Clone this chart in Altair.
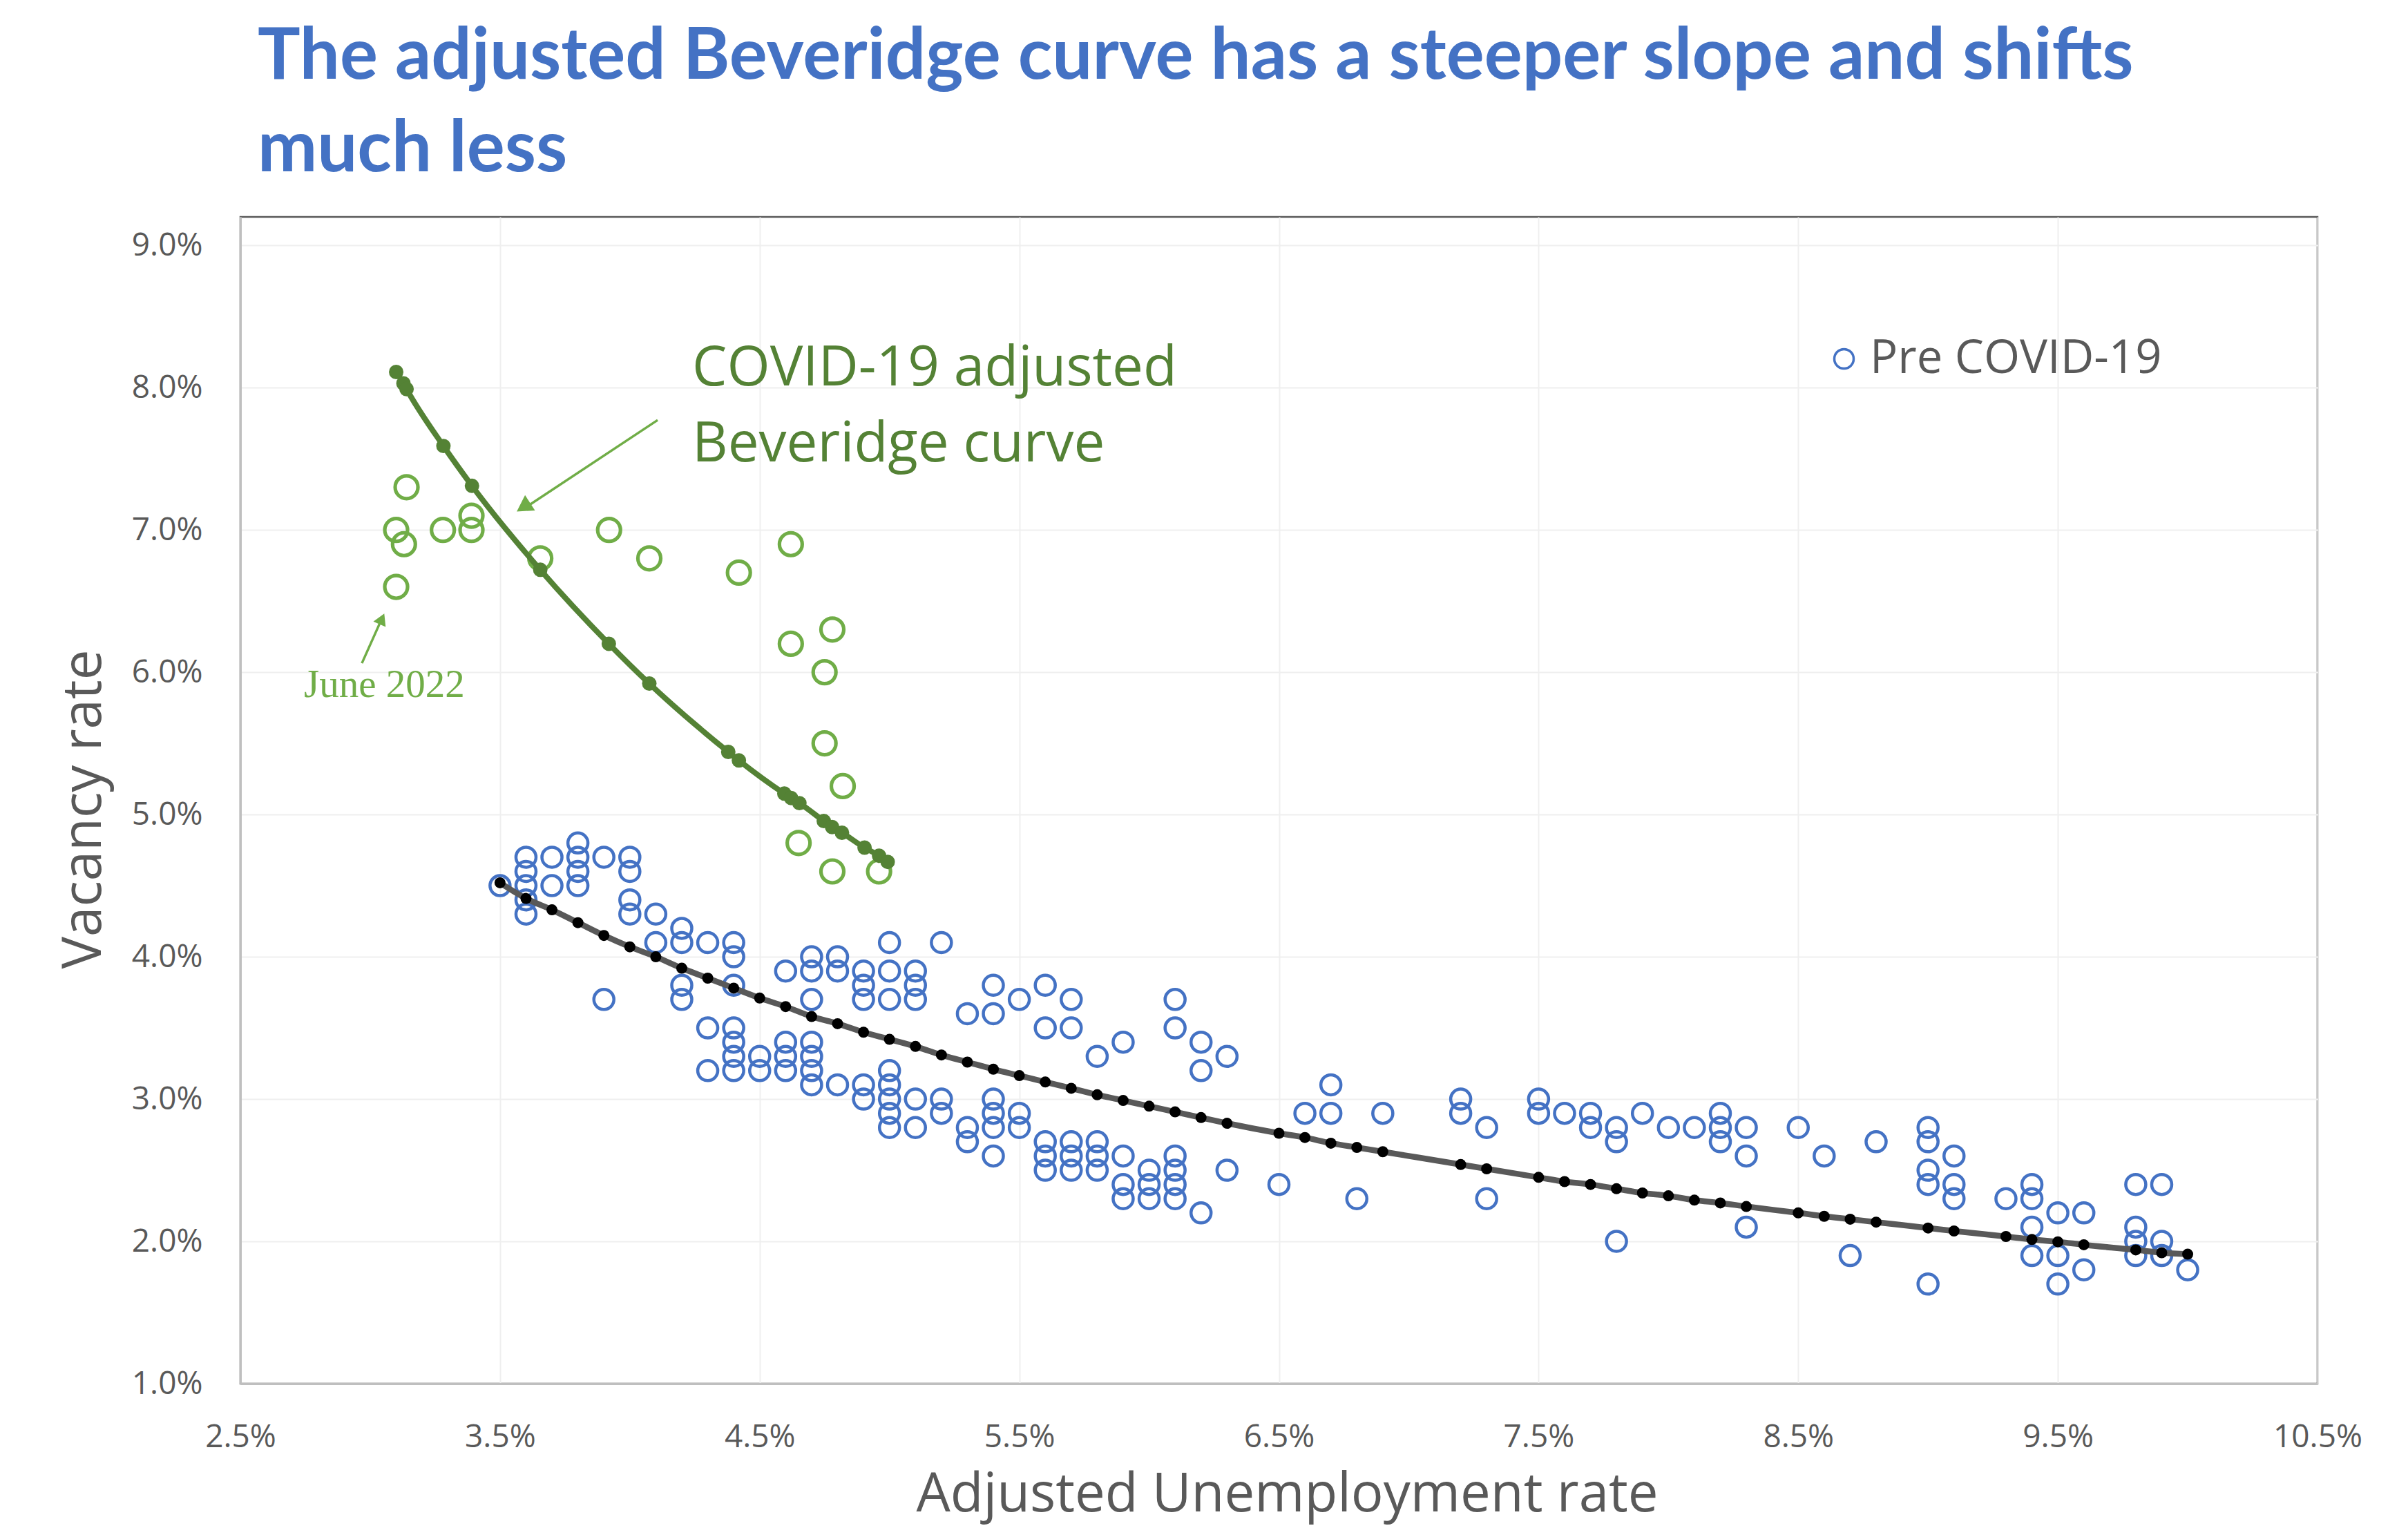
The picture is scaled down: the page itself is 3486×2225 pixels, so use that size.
import altair as alt
import pandas as pd

TITLE = ["The adjusted Beveridge curve has a steeper slope and shifts", "much less"]
X_TITLE = "Adjusted Unemployment rate"
Y_TITLE = "Vacancy rate"
LEGEND_LABEL = "Pre COVID-19"

x_ticks = [2.5, 3.5, 4.5, 5.5, 6.5, 7.5, 8.5, 9.5, 10.5]
y_ticks = [1.0, 2.0, 3.0, 4.0, 5.0, 6.0, 7.0, 8.0, 9.0]

# Pre COVID-19 observations: adjusted unemployment rate (%) and vacancy rate (%)
pre_u = [3.5, 3.6, 3.6, 3.6, 3.6, 3.6, 3.7, 3.7, 3.8, 3.8, 3.8, 3.8, 3.9, 3.9, 4.0, 4.0, 4.0, 4.0,
         4.1, 4.1, 4.2, 4.2, 4.2, 4.2, 4.3, 4.3, 4.3, 4.4, 4.4, 4.4, 4.4, 4.4, 4.4, 4.4, 4.5, 4.5,
         4.6, 4.6, 4.6, 4.6, 4.7, 4.7, 4.7, 4.7, 4.7, 4.7, 4.7, 4.8, 4.8, 4.8, 4.9, 4.9, 4.9, 4.9, 4.9,
         5.0, 5.0, 5.0, 5.0, 5.0, 5.0, 5.0, 5.0, 5.1, 5.1, 5.1, 5.1, 5.1, 5.2, 5.2, 5.2, 5.3, 5.3, 5.3,
         5.4, 5.4, 5.4, 5.4, 5.4, 5.4, 5.5, 5.5, 5.5, 5.6, 5.6, 5.6, 5.6, 5.6, 5.7, 5.7, 5.7, 5.7, 5.7,
         5.8, 5.8, 5.8, 5.8, 5.9, 5.9, 5.9, 5.9, 6.0, 6.0, 6.0, 6.1, 6.1, 6.1, 6.1, 6.1, 6.1,
         6.2, 6.2, 6.2, 6.3, 6.3,
         6.5, 6.6, 6.7, 6.7, 6.8, 6.9, 7.2, 7.2, 7.3, 7.3, 7.5, 7.5, 7.6, 7.7, 7.7, 7.8, 7.8, 7.8, 7.9,
         8.0, 8.1, 8.2, 8.2, 8.2, 8.3, 8.3, 8.3, 8.5, 8.6, 8.7, 8.8,
         9.0, 9.0, 9.0, 9.0, 9.0, 9.1, 9.1, 9.1, 9.3, 9.4, 9.4, 9.4, 9.4, 9.5, 9.5, 9.5, 9.6, 9.6,
         9.8, 9.8, 9.8, 9.8, 9.9, 9.9, 9.9, 10.0]
pre_v = [4.5, 4.7, 4.6, 4.5, 4.4, 4.3, 4.7, 4.5, 4.8, 4.7, 4.6, 4.5, 4.7, 3.7, 4.7, 4.6, 4.4, 4.3,
         4.3, 4.1, 4.2, 4.1, 3.8, 3.7, 4.1, 3.5, 3.2, 4.1, 4.0, 3.8, 3.5, 3.4, 3.3, 3.2, 3.3, 3.2,
         3.9, 3.4, 3.3, 3.2, 4.0, 3.9, 3.7, 3.4, 3.3, 3.2, 3.1, 4.0, 3.9, 3.1, 3.9, 3.8, 3.7, 3.1, 3.0,
         4.1, 3.9, 3.7, 3.2, 3.1, 3.0, 2.9, 2.8, 3.9, 3.8, 3.7, 3.0, 2.8, 4.1, 3.0, 2.9, 3.6, 2.8, 2.7,
         3.8, 3.6, 3.0, 2.9, 2.8, 2.6, 3.7, 2.9, 2.8, 3.8, 3.5, 2.7, 2.6, 2.5, 3.7, 3.5, 2.7, 2.6, 2.5,
         3.3, 2.7, 2.6, 2.5, 3.4, 2.6, 2.4, 2.3, 2.5, 2.4, 2.3, 3.7, 3.5, 2.6, 2.5, 2.4, 2.3,
         3.4, 3.2, 2.2, 3.3, 2.5,
         2.4, 2.9, 3.1, 2.9, 2.3, 2.9, 3.0, 2.9, 2.8, 2.3, 3.0, 2.9, 2.9, 2.9, 2.8, 2.8, 2.7, 2.0, 2.9,
         2.8, 2.8, 2.9, 2.8, 2.7, 2.8, 2.6, 2.1, 2.8, 2.6, 1.9, 2.7,
         2.8, 2.7, 2.5, 2.4, 1.7, 2.6, 2.4, 2.3, 2.3, 2.4, 2.3, 2.1, 1.9, 2.2, 1.9, 1.7, 2.2, 1.8,
         2.4, 2.1, 2.0, 1.9, 2.4, 2.0, 1.9, 1.8]

# Fitted pre COVID-19 Beveridge curve
fit_u = [3.5, 3.6, 3.7, 3.8, 3.9, 4.0, 4.1, 4.2, 4.3, 4.4, 4.5, 4.6, 4.7, 4.8, 4.9, 5.0,
         5.1, 5.2, 5.3, 5.4, 5.5, 5.6, 5.7, 5.8, 5.9, 6.0, 6.1, 6.2, 6.3,
         6.5, 6.6, 6.7, 6.8, 6.9, 7.2, 7.3, 7.5, 7.6, 7.7, 7.8, 7.9, 8.0, 8.1, 8.2, 8.3,
         8.5, 8.6, 8.7, 8.8, 9.0, 9.1, 9.3, 9.4, 9.5, 9.6, 9.8, 9.9, 10.0]
fit_v = [4.52, 4.41, 4.33, 4.24, 4.15, 4.07, 4.00, 3.92, 3.85, 3.78, 3.71, 3.65, 3.58, 3.53, 3.47, 3.42,
         3.37, 3.31, 3.26, 3.21, 3.165, 3.12, 3.076, 3.03, 2.99, 2.95, 2.91, 2.87, 2.83,
         2.76, 2.73, 2.69, 2.66, 2.63, 2.54, 2.51, 2.45, 2.42, 2.40, 2.37, 2.34, 2.32, 2.29, 2.27, 2.245,
         2.20, 2.176, 2.156, 2.135, 2.094, 2.073, 2.034, 2.013, 1.997, 1.976, 1.94, 1.92, 1.91]

# COVID-19 observations
cov_u = [3.10, 3.10, 3.13, 3.14, 3.28, 3.39, 3.39, 3.655, 3.92, 4.075, 4.42,
         4.62, 4.62, 4.78, 4.75, 4.75, 4.82, 4.65, 4.78, 4.96]
cov_v = [7.0, 6.6, 6.9, 7.3, 7.0, 7.1, 7.0, 6.8, 7.0, 6.8, 6.7,
         6.9, 6.2, 6.3, 6.0, 5.5, 5.2, 4.8, 4.6, 4.6]

# COVID-19 adjusted Beveridge curve
cfit_u = [3.10, 3.128, 3.14, 3.282, 3.392, 3.655, 3.919, 4.075, 4.379, 4.42,
          4.595, 4.621, 4.653, 4.747, 4.779, 4.817, 4.904, 4.96, 4.993]
cfit_v = [8.11, 8.03, 7.99, 7.59, 7.31, 6.72, 6.20, 5.92, 5.44, 5.38,
          5.147, 5.116, 5.08, 4.954, 4.912, 4.872, 4.767, 4.71, 4.667]

# Annotations (in data units)
note_text = ["COVID-19 adjusted", "Beveridge curve"]
note_u = [4.24, 4.24]
note_v = [8.015, 7.481]
june_text = ["June 2022"]
june_u = [2.745]
june_v = [5.825]
arrow_u0 = [4.107, 2.968]
arrow_v0 = [7.772, 6.063]
arrow_u1 = [3.596, 3.043]
arrow_v1 = [7.155, 6.369]
head_u = [3.590, 3.045]
head_v = [7.160, 6.375]
head_angle = [237, 24]
head_size = [700, 380]

BLUE = "#4472C4"
LIGHT_GREEN = "#70AD47"
DARK_GREEN = "#548235"
GREY = "#595959"
FONT = "Open Sans"

pre_df = pd.DataFrame({"u": pre_u, "v": pre_v, "series": LEGEND_LABEL})
fit_df = pd.DataFrame({"u": fit_u, "v": fit_v})
cov_df = pd.DataFrame({"u": cov_u, "v": cov_v})
cfit_df = pd.DataFrame({"u": cfit_u, "v": cfit_v})
note_df = pd.DataFrame({"u": note_u, "v": note_v, "t": note_text})
june_df = pd.DataFrame({"u": june_u, "v": june_v, "t": june_text})
arrow_df = pd.DataFrame({"u": arrow_u0, "v": arrow_v0, "u2": arrow_u1, "v2": arrow_v1})
head_df = pd.DataFrame({"u": head_u, "v": head_v, "a": head_angle, "s": head_size})

W, H = 3007, 1689

xenc = alt.X("u:Q",
             scale=alt.Scale(domain=[2.5, 10.5], nice=False, zero=False),
             axis=alt.Axis(values=x_ticks, labelExpr="format(datum.value, '.1f') + '%'",
                           title=X_TITLE, titleX=1515, titleY=184, titleBaseline="alphabetic",
                           titleAlign="center", labelPadding=55))
yenc = alt.Y("v:Q",
             scale=alt.Scale(domain=[1.0, 9.2], nice=False, zero=False),
             axis=alt.Axis(values=y_ticks, labelExpr="format(datum.value, '.1f') + '%'",
                           title=Y_TITLE, titleX=-203, titleY=857, titleAngle=270,
                           titleBaseline="alphabetic", titleAlign="center", labelPadding=55))

pre = alt.Chart(pre_df).mark_point(filled=False, shape="circle", size=841, strokeWidth=4.5, opacity=1).encode(
    x=xenc, y=yenc,
    color=alt.Color("series:N", scale=alt.Scale(domain=[LEGEND_LABEL], range=[BLUE]),
                    legend=alt.Legend(title=None, orient="none", legendX=2288, legendY=172,
                                      symbolType="circle", symbolSize=784, symbolStrokeWidth=3.5,
                                      labelFont=FONT, labelFontSize=67, labelColor=GREY,
                                      labelOffset=4, labelLimit=1000, padding=0)))

fit_line = alt.Chart(fit_df).mark_line(color=GREY, strokeWidth=8.5, interpolate="monotone").encode(x="u:Q", y="v:Q")
fit_pts = alt.Chart(fit_df).mark_point(filled=True, shape="circle", size=256, color="#000000", opacity=1).encode(x="u:Q", y="v:Q")

cov = alt.Chart(cov_df).mark_point(filled=False, shape="circle", size=1090, strokeWidth=5.2,
                                   color=LIGHT_GREEN, opacity=1).encode(x="u:Q", y="v:Q")
cfit_line = alt.Chart(cfit_df).mark_line(color=DARK_GREEN, strokeWidth=8, interpolate="monotone").encode(x="u:Q", y="v:Q")
cfit_pts = alt.Chart(cfit_df).mark_point(filled=True, shape="circle", size=440, color=DARK_GREEN, opacity=1).encode(x="u:Q", y="v:Q")

notes = alt.Chart(note_df).mark_text(font=FONT, fontSize=80, color=DARK_GREEN, align="left",
                                     baseline="alphabetic").encode(x="u:Q", y="v:Q", text="t:N")
june = alt.Chart(june_df).mark_text(font="Liberation Serif", fontSize=57, color=LIGHT_GREEN, align="left",
                                    baseline="alphabetic").encode(x="u:Q", y="v:Q", text="t:N")
arrows = alt.Chart(arrow_df).mark_rule(color=LIGHT_GREEN, strokeWidth=3.5).encode(
    x="u:Q", y="v:Q", x2="u2:Q", y2="v2:Q")
heads = alt.Chart(head_df).mark_point(shape="triangle-up", filled=True, color=LIGHT_GREEN, opacity=1).encode(
    x="u:Q", y="v:Q", angle=alt.Angle("a:Q", scale=None), size=alt.Size("s:Q", scale=None, legend=None))

chart = alt.layer(pre, fit_line, fit_pts, cov, cfit_line, cfit_pts, arrows, heads, notes, june).properties(
    width=W, height=H,
    autosize=alt.AutoSizeParams(type="none"),
    padding={"left": 340, "top": 306, "right": 120, "bottom": 212},
    background="white",
    title=alt.TitleParams(text=TITLE, anchor="start", frame="group", dx=25, dy=98, offset=39,
                          font="Lato", fontSize=103, fontWeight="bold", color=BLUE,
                          lineHeight=134, baseline="bottom"),
).configure_view(
    stroke=GREY, strokeWidth=2.5
).configure_axis(
    labelFont=FONT, labelFontSize=46, labelColor=GREY, labelFlush=False, labelOverlap=False,
    ticks=False, tickSize=0,
    domainColor="#BFBFBF", domainWidth=3,
    grid=True, gridColor="#EFEFEF", gridWidth=2,
    titleFont=FONT, titleFontSize=78, titleColor=GREY, titleFontWeight="normal",
)

chart.save("out.html", embed_options={"renderer": "svg", "actions": False})
